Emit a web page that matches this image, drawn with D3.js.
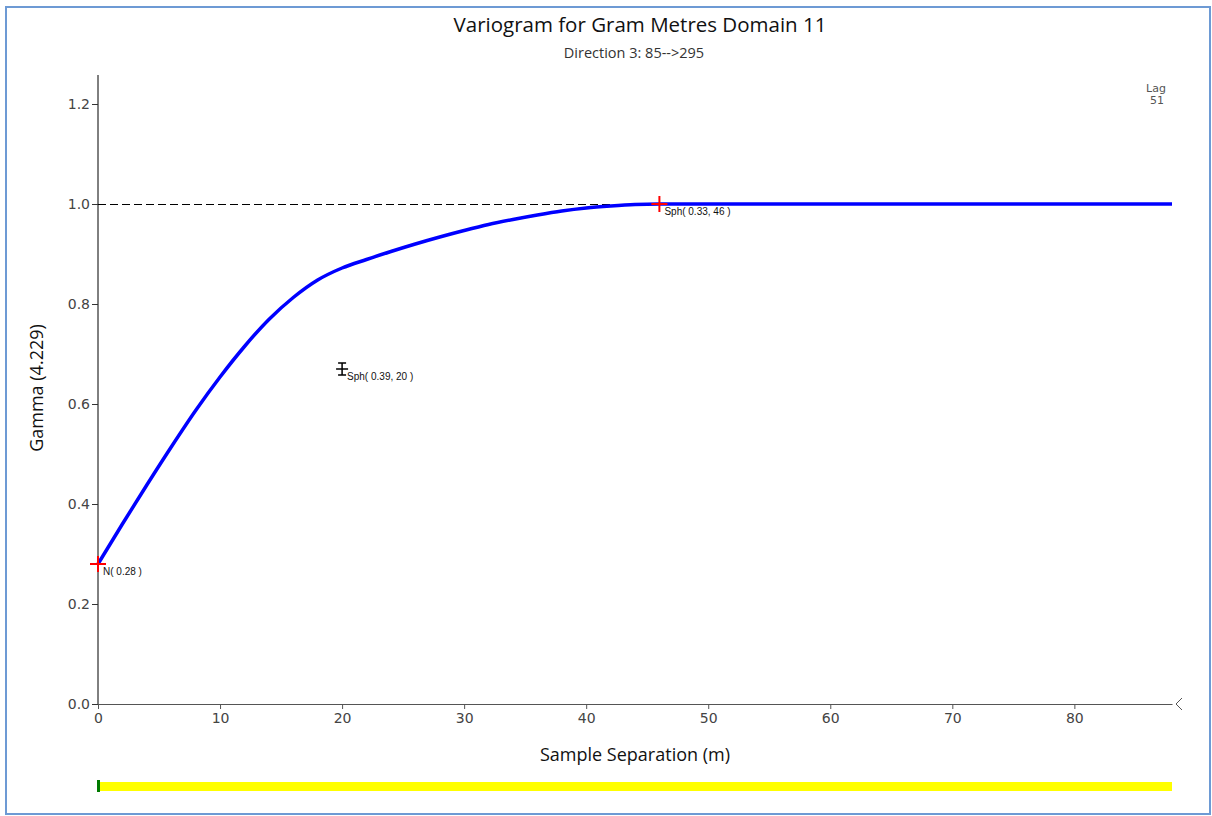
<!DOCTYPE html>
<html>
<head>
<meta charset="utf-8">
<script src="https://cdn.jsdelivr.net/npm/d3@7"></script>
<style>
  body { margin: 0; background: #fff; }
  svg { display: block; }
</style>
</head>
<body>
<script>
// model curve (lag in m, gamma)
var lags  = [0, 2, 4, 6, 8, 10, 12, 14, 16, 18, 20, 22, 24, 26, 28, 30, 32, 34, 36, 38, 40, 42, 44, 46, 88];
var gamma = [0.28, 0.36, 0.438, 0.514, 0.587, 0.654, 0.715, 0.769, 0.813, 0.848, 0.872, 0.889, 0.905, 0.920,
             0.934, 0.947, 0.959, 0.969, 0.978, 0.986, 0.992, 0.996, 0.999, 1.0, 1.0];

// structure markers
var markerX     = [0, 20, 46];
var markerY     = [0.28, 0.67, 1.0];
var markerLabel = ["N( 0.28 )", "Sph( 0.39, 20 )", "Sph( 0.33, 46 )"];
var markerKind  = ["red", "black", "red"];

var sill = 1.0;
var xTicks = [0, 10, 20, 30, 40, 50, 60, 70, 80];
var yTicks = [0.0, 0.2, 0.4, 0.6, 0.8, 1.0, 1.2];

var W = 1212, H = 816;
var svg = d3.select("body").append("svg")
    .attr("width", W)
    .attr("height", H);

// frame
svg.append("rect")
    .attr("x", 6).attr("y", 7)
    .attr("width", 1204).attr("height", 807)
    .attr("fill", "none")
    .attr("stroke", "#6d9ad4")
    .attr("stroke-width", 2);

var x = d3.scaleLinear().domain([0, 88]).range([98, 1172]);
var y = d3.scaleLinear().domain([0, 1.2]).range([704, 104]);

var font = "'DejaVu Sans', Tahoma, sans-serif";

// title
svg.append("text")
    .attr("x", 640).attr("y", 32)
    .attr("text-anchor", "middle")
    .style("font-family", "'Open Sans', sans-serif")
    .style("font-size", "20.5px")
    .attr("fill", "#111")
    .text("Variogram for Gram Metres Domain 11");

svg.append("text")
    .attr("x", 634).attr("y", 58)
    .attr("text-anchor", "middle")
    .style("font-family", "'Open Sans', sans-serif")
    .style("font-size", "14.5px")
    .attr("fill", "#333")
    .text("Direction 3: 85-->295");

// axes
var xAxis = svg.append("g")
    .attr("transform", "translate(0,704)")
    .call(d3.axisBottom(x).tickValues(xTicks).tickFormat(d3.format("d")).tickSize(5).tickSizeOuter(0));
xAxis.select(".domain").attr("stroke", "#555");
xAxis.selectAll(".tick line").attr("stroke", "#555");
xAxis.selectAll("text")
    .style("font-family", font).style("font-size", "14px").attr("fill", "#444").attr("dy", "0.8em");

var yAxis = svg.append("g")
    .attr("transform", "translate(98,0)")
    .call(d3.axisLeft(y).tickValues(yTicks).tickFormat(d3.format(".1f")).tickSize(6).tickSizeOuter(0));
yAxis.select(".domain").attr("d", "M0,75V704").attr("stroke", "#000");
yAxis.selectAll(".tick line").attr("stroke", "#333");
yAxis.selectAll("text")
    .style("font-family", font).style("font-size", "14px").attr("fill", "#444").attr("x", -8);

// "<" at the end of the x axis
svg.append("path")
    .attr("d", "M1182,698L1176,704L1182,710")
    .attr("fill", "none")
    .attr("stroke", "#555");

// axis titles
svg.append("text")
    .attr("x", 635).attr("y", 761)
    .attr("text-anchor", "middle")
    .style("font-family", "'Open Sans', sans-serif")
    .style("font-size", "18px")
    .attr("fill", "#111")
    .text("Sample Separation (m)");

svg.append("text")
    .attr("transform", "translate(43,388) rotate(-90)")
    .attr("text-anchor", "middle")
    .style("font-family", "'Open Sans', sans-serif")
    .style("font-size", "18px")
    .attr("fill", "#111")
    .text("Gamma (4.229)");

// lag label
svg.append("text")
    .attr("x", 1156).attr("y", 92)
    .attr("text-anchor", "middle")
    .style("font-family", font).style("font-size", "11px").attr("fill", "#555")
    .text("Lag");
svg.append("text")
    .attr("x", 1157).attr("y", 104)
    .attr("text-anchor", "middle")
    .style("font-family", font).style("font-size", "11px").attr("fill", "#555")
    .text("51");

// sill dashed line
svg.append("line")
    .attr("x1", x(0)).attr("x2", x(46))
    .attr("y1", Math.round(y(sill)) + 0.5).attr("y2", Math.round(y(sill)) + 0.5)
    .attr("stroke", "#000")
    .attr("stroke-dasharray", "8,4");

// model curve
var pts = lags.map(function(d, i) { return [d, gamma[i]]; });
svg.append("path")
    .datum(pts)
    .attr("d", d3.line().x(function(d) { return x(d[0]); }).y(function(d) { return y(d[1]); }).curve(d3.curveMonotoneX))
    .attr("fill", "none")
    .attr("stroke", "#0000ff")
    .attr("stroke-width", 3.5);

// markers
markerX.forEach(function(mx, i) {
  var px = x(mx), py = y(markerY[i]);
  var g = svg.append("g");
  if (markerKind[i] == "red") {
    g.append("path")
        .attr("d", "M" + (px - 8) + "," + py + "H" + (px + 8) + "M" + px + "," + (py - 8) + "V" + (py + 8))
        .attr("stroke", "#ff0000").attr("stroke-width", 2);
  } else {
    g.append("path")
        .attr("d", "M" + (px - 6) + "," + py + "H" + (px + 6) +
                   "M" + px + "," + (py - 6) + "V" + (py + 6) +
                   "M" + (px - 4) + "," + (py - 6) + "H" + (px + 4) +
                   "M" + (px - 4) + "," + (py + 6) + "H" + (px + 4))
        .attr("stroke", "#000").attr("stroke-width", 1.5);
  }
  g.append("text")
      .attr("x", px + 5).attr("y", py + 11)
      .style("font-family", "'Liberation Sans', Arial, sans-serif").style("font-size", "10px").attr("fill", "#111")
      .text(markerLabel[i]);
});

// lag slider
svg.append("rect")
    .attr("x", x(0)).attr("y", 782)
    .attr("width", x(88) - x(0)).attr("height", 9)
    .attr("fill", "#ffff00");
svg.append("rect")
    .attr("x", x(0) - 1).attr("y", 780)
    .attr("width", 3).attr("height", 12)
    .attr("fill", "#007a00");
</script>
</body>
</html>
